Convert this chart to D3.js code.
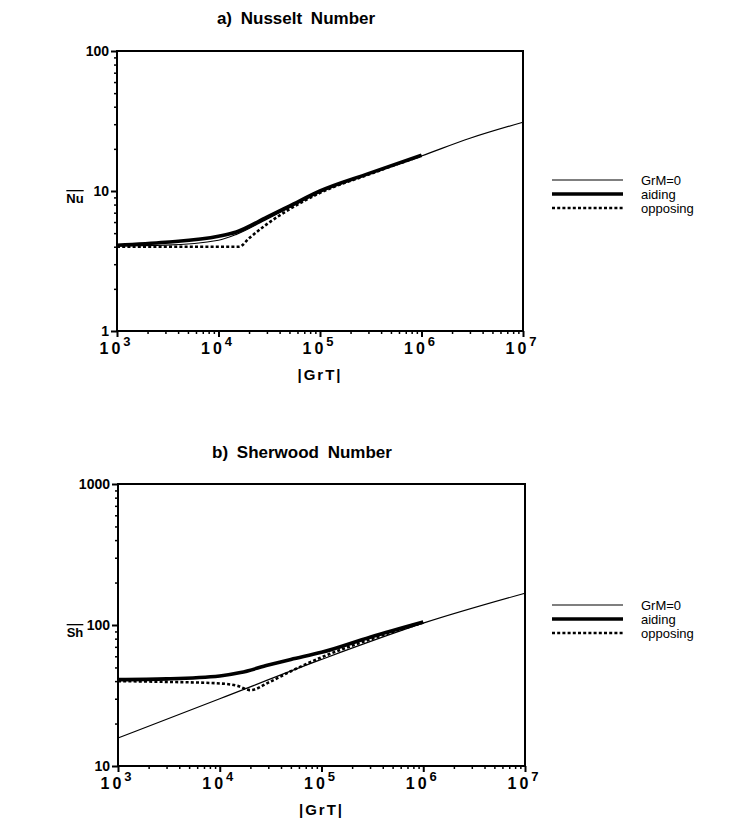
<!DOCTYPE html>
<html>
<head>
<meta charset="utf-8">
<script src="https://cdn.jsdelivr.net/npm/d3@7"></script>
<style>
  body { margin: 0; background: #fff; }
  text { font-family: "Liberation Sans", Arial, sans-serif; fill: #000; }
</style>
</head>
<body>
<div id="container"></div>
<script>
// x values (|GrT|) shared by the curves, one array per series
const xDecades = [3, 4, 5, 6, 7];
const seriesNames = ["GrM=0", "aiding", "opposing"];

// a) Nusselt number
const nuGrT0 = [1e3, 3e3, 1e4, 1.5e4, 3e4, 5e4, 1e5, 3e5, 1e6, 3e6, 1e7];
const nuGrM0 = [4.05, 4.1, 4.45, 4.9, 6.3, 7.6, 9.8, 13.2, 17.8, 23.8, 31];
const nuAidX = [1e3, 3e3, 1e4, 1.5e4, 3e4, 5e4, 1e5, 3e5, 1e6];
const nuAid = [4.1, 4.3, 4.75, 5.1, 6.5, 7.8, 10, 13.3, 18];
const nuOppX = [1e3, 3e3, 1e4, 1.6e4, 2e4, 3e4, 5e4, 1e5, 3e5, 1e6];
const nuOpp = [4.0, 4.0, 4.0, 4.0, 4.6, 5.8, 7.4, 9.7, 13.1, 17.9];
const nuTicks = [1, 10, 100];

// b) Sherwood number
const shGrT0 = [1e3, 1e4, 1e5, 1e6, 1e7];
const shGrM0 = [15.8, 30, 57, 103, 168];
const shAidX = [1e3, 3e3, 1e4, 1.6e4, 3e4, 5e4, 1e5, 3e5, 1e6];
const shAid = [41, 41.5, 43.5, 46, 52, 57, 64, 82, 105];
const shOppX = [1e3, 3e3, 1e4, 1.5e4, 2e4, 3e4, 5e4, 1e5, 3e5, 1e6];
const shOpp = [40, 39.5, 38.5, 37, 34.5, 39, 47, 59, 79, 104];
const shTicks = [10, 100, 1000];

const width = 729, height = 828;

const svg = d3.select("#container")
    .append("svg")
    .attr("width", width)
    .attr("height", height);

// line styles for the three series
const styles = [
    {width: 1.2, dash: null},
    {width: 3.6, dash: null},
    {width: 2.6, dash: "3,2.2"}
];

function panel(p) {
    const x = d3.scaleLog().domain([1e3, 1e7]).range([p.left, p.right]);
    const y = d3.scaleLog().domain(p.yDomain).range([p.bottom, p.top]);

    // title
    svg.append("text")
        .attr("x", p.titleX).attr("y", p.titleY)
        .attr("text-anchor", "middle")
        .style("font-size", "17px").style("font-weight", "bold")
        .style("word-spacing", "4px")
        .text(p.title);

    // minor ticks from log scale
    const minorX = [];
    xDecades.slice(0, -1).forEach(d => {
        for (let k = 2; k < 10; k++) minorX.push(k * Math.pow(10, d));
    });
    const minorY = [];
    p.yTicks.slice(0, -1).forEach(d => {
        for (let k = 2; k < 10; k++) minorY.push(k * d);
    });

    svg.append("g")
        .attr("transform", `translate(0,${p.bottom})`)
        .call(d3.axisBottom(x).tickValues(minorX).tickSize(3).tickFormat(""))
        .call(g => g.select(".domain").remove())
        .selectAll("line").attr("stroke-width", 1.5);

    svg.append("g")
        .attr("transform", `translate(${p.left},0)`)
        .call(d3.axisLeft(y).tickValues(minorY).tickSize(3).tickFormat(""))
        .call(g => g.select(".domain").remove())
        .selectAll("line").attr("stroke-width", 1.5);

    // major x ticks with 10^n labels
    const gx = svg.append("g")
        .attr("transform", `translate(0,${p.bottom})`)
        .call(d3.axisBottom(x).tickValues(xDecades.map(d => Math.pow(10, d))).tickSize(6).tickFormat(""));
    gx.select(".domain").remove();
    gx.selectAll("line").attr("stroke-width", 2);

    xDecades.forEach(d => {
        const t = svg.append("text")
            .attr("x", x(Math.pow(10, d)) - 2)
            .attr("y", p.bottom + 23)
            .attr("text-anchor", "middle")
            .style("font-size", "16px").style("font-weight", "bold");
        t.append("tspan").style("letter-spacing", "3px").text("10");
        t.append("tspan").attr("dy", -8).style("font-size", "13px").text(d);
    });

    // major y ticks with labels
    const gy = svg.append("g")
        .attr("transform", `translate(${p.left},0)`)
        .call(d3.axisLeft(y).tickValues(p.yTicks).tickSize(6).tickPadding(2).tickFormat(d3.format("d")));
    gy.select(".domain").remove();
    gy.selectAll("line").attr("stroke-width", 2);
    gy.selectAll("text")
        .style("font-size", "14px").style("font-weight", "bold")
        .style("font-family", "'Liberation Sans', Arial, sans-serif")
        .attr("fill", "#000");

    // frame
    svg.append("rect")
        .attr("x", p.left).attr("y", p.top)
        .attr("width", p.right - p.left).attr("height", p.bottom - p.top)
        .attr("fill", "none").attr("stroke", "#000").attr("stroke-width", 2);

    // x axis title
    svg.append("text")
        .attr("x", x(1e5)).attr("y", p.bottom + 49)
        .attr("text-anchor", "middle")
        .style("font-size", "15px").style("font-weight", "bold")
        .style("letter-spacing", "2px")
        .text("|GrT|");

    // y axis title with overline
    svg.append("text")
        .attr("x", 75).attr("y", y(p.yLabelAt) + 12)
        .attr("text-anchor", "middle")
        .style("font-size", "13px").style("font-weight", "bold")
        .style("text-decoration", "overline")
        .text(p.yName);

    // curves
    const line = d3.line()
        .x(d => x(d[0]))
        .y(d => y(d[1]))
        .curve(d3.curveMonotoneX);

    p.series.forEach((s, i) => {
        svg.append("path")
            .datum(s.xs.map((v, j) => [v, s.ys[j]]))
            .attr("d", line)
            .attr("fill", "none")
            .attr("stroke", "#000")
            .attr("stroke-width", styles[i].width)
            .attr("stroke-dasharray", styles[i].dash);
    });

    // legend
    seriesNames.forEach((name, i) => {
        const ly = p.legendY + i * 14;
        svg.append("line")
            .attr("x1", 552).attr("x2", 623)
            .attr("y1", ly).attr("y2", ly)
            .attr("stroke", "#000")
            .attr("stroke-width", styles[i].width)
            .attr("stroke-dasharray", styles[i].dash);
        svg.append("text")
            .attr("x", 641).attr("y", ly + 5)
            .style("font-size", "13px")
            .text(name);
    });
}

panel({
    title: "a)  Nusselt  Number", titleX: 296, titleY: 24,
    left: 117, right: 523, top: 51, bottom: 331,
    yDomain: [1, 100], yTicks: nuTicks, yName: "Nu", yLabelAt: 10,
    legendY: 180,
    series: [
        {xs: nuGrT0, ys: nuGrM0},
        {xs: nuAidX, ys: nuAid},
        {xs: nuOppX, ys: nuOpp}
    ]
});

panel({
    title: "b)  Sherwood  Number", titleX: 302, titleY: 458,
    left: 118, right: 525, top: 484, bottom: 766,
    yDomain: [10, 1000], yTicks: shTicks, yName: "Sh", yLabelAt: 100,
    legendY: 605,
    series: [
        {xs: shGrT0, ys: shGrM0},
        {xs: shAidX, ys: shAid},
        {xs: shOppX, ys: shOpp}
    ]
});
</script>
</body>
</html>
